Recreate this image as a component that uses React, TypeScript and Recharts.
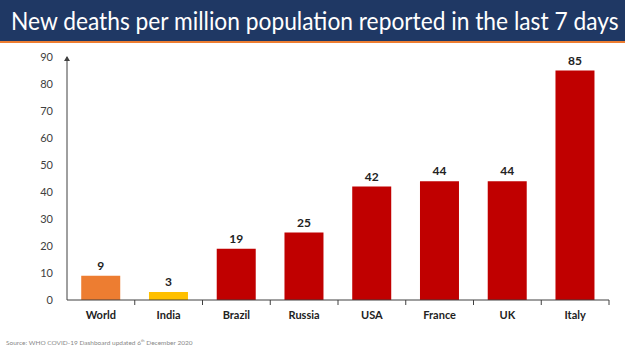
import { Bar, BarChart, Cell, LabelList, XAxis, YAxis } from 'recharts'

const countries = ['World', 'India', 'Brazil', 'Russia', 'USA', 'France', 'UK', 'Italy']
const deaths = [9, 3, 19, 25, 42, 44, 44, 85]
const barColors = ['#ED7D31', '#FFC000', '#C00000', '#C00000', '#C00000', '#C00000', '#C00000', '#C00000']
const yTicks = [0, 10, 20, 30, 40, 50, 60, 70, 80, 90]

const data = countries.map((name, i) => ({ name, value: deaths[i] }))

const W = 625
const H = 351
const plotLeft = 67
const plotRight = 609
const band = (plotRight - plotLeft) / countries.length

function CategoryTick(props: any) {
  const { x, y, payload } = props
  return (
    <g>
      <line x1={x + band / 2} x2={x + band / 2} y1={y - 8} y2={y - 3} stroke="#404040" />
      <text x={x} y={y + 11} textAnchor="middle" fontSize={11} fontWeight="bold" fill="#222">
        {payload.value}
      </text>
    </g>
  )
}

export default function App() {
  return (
    <div style={{ position: 'absolute', left: 0, top: 0, width: W, height: H, background: '#fff', fontFamily: 'Lato, sans-serif' }}>
      <div style={{ position: 'absolute', left: 0, top: 0, width: W, height: 41, background: '#1F3864' }} />
      <div style={{ position: 'absolute', left: 0, top: 41, width: W, height: 2, background: '#ED7D31' }} />
      <div
        style={{
          position: 'absolute',
          left: 11,
          top: 5,
          color: '#fff',
          fontSize: 25,
          whiteSpace: 'nowrap',
          lineHeight: '30px',
          transform: 'scaleX(0.91)',
          transformOrigin: 'left center',
        }}
      >
        New deaths per million population reported in the last 7 days
      </div>
      <div style={{ position: 'absolute', left: 0, top: 0 }}>
        <BarChart width={W} height={H} data={data} margin={{ top: 57, right: W - plotRight, left: plotLeft - 35, bottom: 21 }} barCategoryGap="21%">
          <YAxis
            width={35}
            domain={[0, 90]}
            ticks={yTicks}
            interval={0}
            tickLine={false}
            axisLine={{ stroke: '#404040' }}
            tick={{ fontSize: 11, fill: '#404040', fontFamily: 'Lato, sans-serif' }}
            tickMargin={8}
          />
          <XAxis
            dataKey="name"
            height={30}
            interval={0}
            tickLine={false}
            axisLine={{ stroke: '#404040' }}
            tick={<CategoryTick />}
          />
          <Bar dataKey="value" isAnimationActive={false}>
            {data.map((d, i) => (
              <Cell key={d.name} fill={barColors[i]} />
            ))}
            <LabelList dataKey="value" position="top" offset={6} fontSize={12} fontWeight="bold" fill="#222" />
          </Bar>
        </BarChart>
      </div>
      <div
        style={{
          position: 'absolute',
          left: plotLeft - 3,
          top: 56,
          width: 0,
          height: 0,
          borderLeft: '3px solid transparent',
          borderRight: '3px solid transparent',
          borderBottom: '5px solid #404040',
        }}
      />
      <div style={{ position: 'absolute', left: 6, top: 338, fontSize: 6.5, color: '#888', whiteSpace: 'nowrap' }}>
        Source: WHO COVID-19 Dashboard updated 6<sup style={{ fontSize: 4 }}>th</sup> December 2020
      </div>
    </div>
  )
}
